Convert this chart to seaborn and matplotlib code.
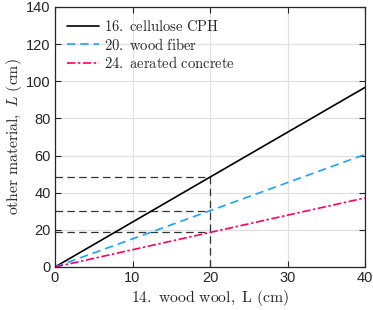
import numpy as np
import pandas as pd
import matplotlib
matplotlib.use("Agg")
import matplotlib.pyplot as plt
import seaborn as sns

# data
wood_wool = [0, 20, 40]
cellulose = [0, 48.4, 96.7]
wood_fiber = [0, 30.3, 60.6]
aerated = [0, 18.6, 37.2]
names = ["16. cellulose CPH", "20. wood fiber", "24. aerated concrete"]
x_ref = 20

sns.set_theme(style="whitegrid")
plt.rcParams['font.family'] = ['Liberation Sans', 'DejaVu Sans']
plt.rcParams['mathtext.fontset'] = 'cm'

df = pd.DataFrame({
    "x": wood_wool * 3,
    "y": cellulose + wood_fiber + aerated,
    "material": [names[0]] * 3 + [names[1]] * 3 + [names[2]] * 3,
})

fig = plt.figure(figsize=(3.73, 3.10), dpi=100)
ax = fig.add_axes([55 / 373, 43 / 310, 310 / 373, 260 / 310])

colors = {names[0]: "black", names[1]: "#1aa3ff", names[2]: "#ff0066"}
dashes = {names[0]: "", names[1]: (5, 3), names[2]: (5, 1.5, 1.5, 1.5)}
sns.lineplot(data=df, x="x", y="y", hue="material", style="material",
             palette=colors, dashes=dashes, linewidth=1.2, ax=ax)

# reference guide lines at x = 20
guide = [cellulose[1], wood_fiber[1], aerated[1]]
for g in guide:
    ax.plot([0, x_ref], [g, g], color="#333333", lw=0.9, ls=(0, (6, 3.5)), zorder=1)
ax.plot([x_ref, x_ref], [0, max(guide)], color="#333333", lw=0.9, ls=(0, (6, 3.5)), zorder=1)

ax.set_xlim(0, 40)
ax.set_ylim(0, 140)
ax.set_xticks([0, 10, 20, 30, 40])
ax.set_yticks(range(0, 141, 20))
ax.grid(color="#e0e0e0", lw=0.9)
for s in ax.spines.values():
    s.set_color("#262626")
    s.set_linewidth(0.9)
ax.tick_params(direction="in", length=4, width=0.8, colors="#262626",
               labelsize=10.5, top=True, right=True, bottom=True, left=True, pad=3)

ax.set_xlabel(r"$\mathrm{14.\ wood\ wool,\ L\ (cm)}$", fontsize=11.3, color="#262626", labelpad=2)
ax.set_ylabel(r"$\mathrm{other\ material,\ }L\mathrm{\ (cm)}$", fontsize=11.3, color="#262626")
ax.yaxis.set_label_coords(-0.1, 0.5)

leg = ax.legend(loc="upper left", frameon=False, fontsize=10.5, handlelength=2.2,
                borderaxespad=0.4, labelspacing=0.2, handletextpad=0.35)
for t in leg.get_texts():
    t.set_text(r"$\mathrm{" + t.get_text().replace(" ", r"\ ") + "}$")

fig.savefig("out.png", dpi=100)
